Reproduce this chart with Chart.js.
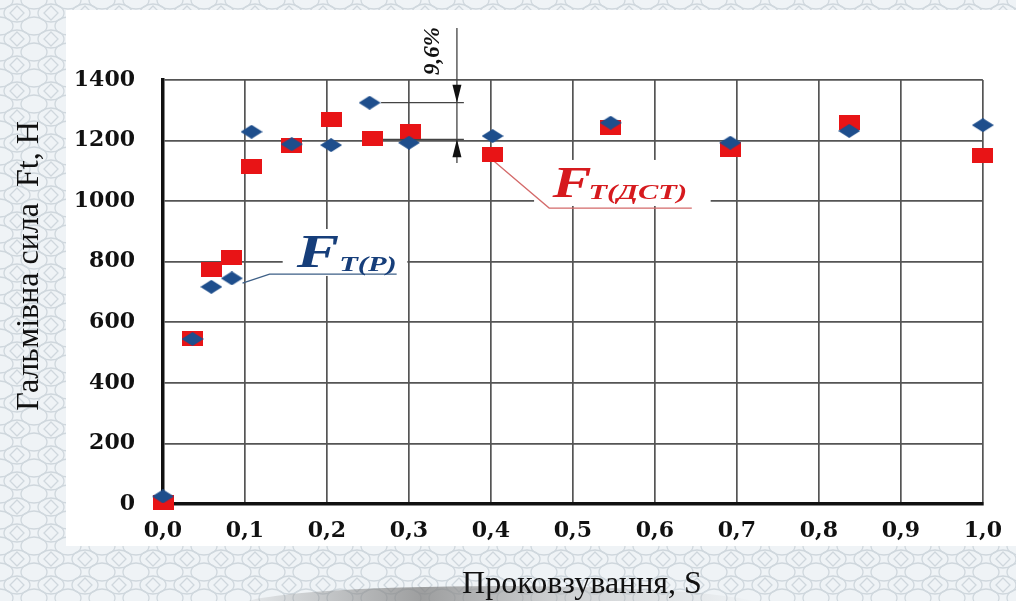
<!DOCTYPE html>
<html>
<head>
<meta charset="utf-8">
<script src="https://cdn.jsdelivr.net/npm/chart.js@4"></script>
<style>
  html, body { margin: 0; padding: 0; }
  body {
    width: 1016px; height: 601px; overflow: hidden; position: relative;
    background-color: #eff3f6;
    background-image: url("data:image/svg+xml,%3Csvg xmlns='http://www.w3.org/2000/svg' width='34' height='26'%3E%3Cg fill='none' stroke='%23cfd7dd' stroke-width='1.3'%3E%3Cellipse cx='17' cy='13' rx='13' ry='9'/%3E%3Cellipse cx='0' cy='0' rx='13' ry='9'/%3E%3Cellipse cx='34' cy='0' rx='13' ry='9'/%3E%3Cellipse cx='0' cy='26' rx='13' ry='9'/%3E%3Cellipse cx='34' cy='26' rx='13' ry='9'/%3E%3Cpath d='M17 6 L24 13 L17 20 L10 13 Z'/%3E%3C/g%3E%3C/svg%3E");
  }
  #paper { position: absolute; left: 66px; top: 10px; width: 950px; height: 536px; background: #fff; }
  #swoosh {
    position: absolute; left: 240px; top: 586px; width: 520px; height: 40px; border-radius: 50%;
    background: linear-gradient(to right, rgba(150,150,150,0.1), rgba(130,130,130,0.75) 35%, rgba(170,170,170,0.5) 60%, rgba(220,220,220,0));
  }
  #c { position: absolute; left: 0; top: 0; }
</style>
</head>
<body>
<div id="paper"></div>
<div id="swoosh"></div>
<canvas id="c" width="1016" height="601"></canvas>
<script>
// slip S and braking force Ft for the two series
const slipP  = [0.0, 0.036, 0.059, 0.084, 0.108, 0.157, 0.205, 0.252, 0.300, 0.402, 0.546, 0.692, 0.837, 1.0];
const forceP = [25, 545, 717, 745, 1229, 1188, 1185, 1325, 1193, 1215, 1259, 1193, 1232, 1251];

const slipD  = [0.0, 0.036, 0.059, 0.084, 0.108, 0.157, 0.205, 0.256, 0.302, 0.402, 0.546, 0.692, 0.837, 1.0];
const forceD = [5, 545, 773, 814, 1116, 1185, 1270, 1207, 1231, 1155, 1244, 1171, 1260, 1152];

const xMin = 0, xMax = 1, xStep = 0.1;
const yMin = 0, yMax = 1400, yStep = 200;

const xTitle = 'Проковзування, S';
const yTitle = 'Гальмівна сила  Ft, Н';

const BLUE = 'rgb(30,78,140)';
const RED = 'rgb(232,20,22)';

function diamond(w, h, color) {
  const c = document.createElement('canvas');
  c.width = w; c.height = h;
  const g = c.getContext('2d');
  g.fillStyle = color;
  g.beginPath();
  g.moveTo(w / 2, 0); g.lineTo(w, h / 2); g.lineTo(w / 2, h); g.lineTo(0, h / 2);
  g.closePath(); g.fill();
  return c;
}

function square(w, h, color) {
  const c = document.createElement('canvas');
  c.width = w; c.height = h;
  const g = c.getContext('2d');
  g.fillStyle = color;
  g.fillRect(0, 0, w, h);
  return c;
}

// stretched text, the original picture is wider than tall
function wideText(ctx, str, px, py, font, color, sx) {
  ctx.save();
  ctx.translate(px, py);
  ctx.scale(sx, 1);
  ctx.font = font;
  ctx.fillStyle = color;
  ctx.textBaseline = 'alphabetic';
  ctx.textAlign = 'left';
  ctx.fillText(str, 0, 0);
  ctx.restore();
}

function arrowHead(ctx, px, tipY, len, half) {
  ctx.beginPath();
  ctx.moveTo(px, tipY);
  ctx.lineTo(px - half, tipY - len);
  ctx.lineTo(px + half, tipY - len);
  ctx.closePath();
  ctx.fill();
}

const notes = {
  id: 'notes',
  beforeDatasetsDraw(chart) {
    const {ctx, scales: {x, y}} = chart;
    const X = v => x.getPixelForValue(v);
    const Y = v => y.getPixelForValue(v);
    ctx.save();

    // white boxes under the labels
    ctx.fillStyle = '#fff';
    ctx.fillRect(X(0.146), Y(908), X(0.298) - X(0.146), Y(753) - Y(908));
    ctx.fillRect(X(0.4526), Y(1136), X(0.668) - X(0.4526), Y(984) - Y(1136));

    // F T(P) label
    ctx.strokeStyle = '#3d5f86';
    ctx.lineWidth = 1.3;
    ctx.beginPath();
    ctx.moveTo(X(0.097), Y(729));
    ctx.lineTo(X(0.130), Y(759));
    ctx.lineTo(X(0.285), Y(759));
    ctx.stroke();
    wideText(ctx, 'F', X(0.163), Y(782), 'italic bold 46px "Liberation Serif"', 'rgb(22,62,122)', 1.38);
    wideText(ctx, 'T(P)', X(0.215), Y(769), 'italic bold 21px "Liberation Serif"', 'rgb(22,62,122)', 1.45);

    // F T(ДСТ) label
    ctx.strokeStyle = '#d46a6a';
    ctx.beginPath();
    ctx.moveTo(X(0.402), Y(1136));
    ctx.lineTo(X(0.471), Y(977));
    ctx.lineTo(X(0.645), Y(977));
    ctx.stroke();
    wideText(ctx, 'F', X(0.475), Y(1014), 'italic bold 45px "Liberation Serif"', 'rgb(214,26,30)', 1.3);
    wideText(ctx, 'T(ДСТ)', X(0.519), Y(1007), 'italic bold 21px "Liberation Serif"', 'rgb(214,26,30)', 1.45);

    // 9,6% dimension
    const ax = X(0.3585);
    ctx.strokeStyle = '#444';
    ctx.fillStyle = '#111';
    ctx.lineWidth = 1.3;
    ctx.beginPath();
    ctx.moveTo(ax, Y(1572)); ctx.lineTo(ax, Y(1126));
    ctx.moveTo(X(0.266), Y(1325)); ctx.lineTo(X(0.367), Y(1325));
    ctx.moveTo(X(0.266), Y(1204)); ctx.lineTo(X(0.367), Y(1204));
    ctx.stroke();
    arrowHead(ctx, ax, Y(1325), 18, 4.5);
    arrowHead(ctx, ax, Y(1204), -18, 4.5);

    ctx.save();
    ctx.translate(X(0.3297), Y(1496));
    ctx.rotate(-Math.PI / 2);
    ctx.font = 'italic bold 23px "Liberation Serif"';
    ctx.fillStyle = '#111';
    ctx.textAlign = 'center';
    ctx.textBaseline = 'middle';
    ctx.fillText('9,6%', 0, 0);
    ctx.restore();

    ctx.restore();
  },
  afterDraw(chart) {
    const ctx = chart.ctx;
    ctx.save();
    ctx.fillStyle = '#111';
    ctx.font = '32px "Liberation Serif"';
    ctx.textAlign = 'center';
    ctx.textBaseline = 'alphabetic';
    ctx.fillText(xTitle, 582, 593);
    ctx.translate(30, 266);
    ctx.rotate(-Math.PI / 2);
    ctx.textBaseline = 'middle';
    ctx.fillText(yTitle, 0, 0);
    ctx.restore();
  }
};

const tickFont = {family: '"DejaVu Serif"', weight: 'bold', size: 22};

new Chart(document.getElementById('c'), {
  type: 'scatter',
  data: {
    datasets: [{
      label: 'F T(P)',
      data: slipP.map((s, i) => ({x: s, y: forceP[i]})),
      pointStyle: diamond(22, 14, BLUE),
      backgroundColor: BLUE,
      clip: false
    }, {
      label: 'F T(ДСТ)',
      data: slipD.map((s, i) => ({x: s, y: forceD[i]})),
      pointStyle: square(21, 15, RED),
      backgroundColor: RED,
      clip: false
    }]
  },
  options: {
    responsive: false,
    animation: false,
    layout: {padding: {left: 0, top: 80, right: 31, bottom: 0}},
    plugins: {legend: {display: false}, tooltip: {enabled: false}},
    scales: {
      x: {
        type: 'linear', min: xMin, max: xMax,
        afterFit: s => { s.height = 97; },
        grid: {color: '#555', lineWidth: 1.7, drawTicks: false},
        border: {color: '#111', width: 3.5},
        ticks: {
          stepSize: xStep,
          font: tickFont, color: '#111', padding: 14,
          callback: v => v.toFixed(1).replace('.', ',')
        }
      },
      y: {
        min: yMin, max: yMax,
        afterFit: s => { s.width = 163; },
        grid: {color: '#555', lineWidth: 1.7, drawTicks: false},
        border: {color: '#111', width: 3.5},
        ticks: {
          stepSize: yStep, font: tickFont, color: '#111', padding: 28,
          callback: v => String(v)
        }
      }
    }
  },
  plugins: [notes]
});
</script>
</body>
</html>
